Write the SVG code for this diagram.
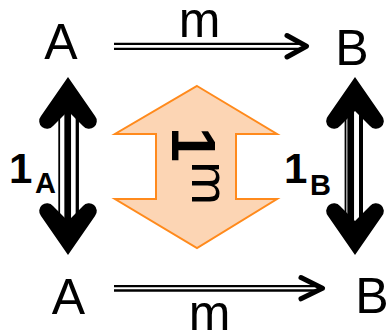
<svg xmlns="http://www.w3.org/2000/svg" width="386" height="336" viewBox="0 0 386 336">
<style>
.lbl{font-family:"Liberation Sans",Arial,sans-serif;fill:#000}
.big{font-size:50px}
.one{font-size:42px;font-weight:bold}
.sub{font-size:29px;font-weight:bold}
.dl{stroke:#000;stroke-width:2.3;fill:none}
.head{stroke:#000;stroke-width:5;fill:none;stroke-linecap:round;stroke-linejoin:round}
.vl{stroke:#000;fill:none}
.vh{fill:#000}
</style>
<rect width="386" height="336" fill="#fff"/>
<g id="A-top"><text class="lbl big" x="61" y="59" text-anchor="middle">A</text></g>
<g id="B-top"><text class="lbl big" x="352" y="65" text-anchor="middle">B</text></g>
<g id="A-bottom"><text class="lbl big" x="68.5" y="314" text-anchor="middle">A</text></g>
<g id="B-bottom"><text class="lbl big" x="372" y="313" text-anchor="middle">B</text></g>
<g id="two-cell">
<polygon points="197,86 277,134 236,134 236,199 277,199 197,248 115,199 156,199 156,134 115,134" fill="#FCD5B4" stroke="#FF8A1C" stroke-width="2" stroke-linejoin="miter"/>
<text class="lbl" font-size="63" font-weight="bold" transform="translate(172,127) rotate(90)">1</text>
<text class="lbl" font-size="52" transform="translate(192,161.5) rotate(90)">m</text>
</g>
<g id="connectors">
<g id="m-top">
<line class="dl" x1="114" y1="43.8" x2="303" y2="43.8"/>
<line class="dl" x1="114" y1="48.8" x2="303" y2="48.8"/>
<polyline class="head" points="287,35.5 306.5,46.3 287,57"/>
<text class="lbl big" x="199.5" y="37" text-anchor="middle">m</text>
</g>
<g id="m-bottom">
<line class="dl" x1="114" y1="286.2" x2="319" y2="286.2"/>
<line class="dl" x1="114" y1="290.5" x2="319" y2="290.5"/>
<polyline class="head" points="301,277.5 322.5,288.3 301,298.8"/>
<text class="lbl big" x="209.5" y="330" text-anchor="middle">m</text>
</g>
<g id="id-A">
<line class="vl" stroke-width="1.8" x1="59.2" y1="108" x2="59.2" y2="224"/>
<line class="vl" stroke-width="6.7" x1="67.7" y1="108" x2="67.7" y2="224"/>
<line class="vl" stroke-width="3.3" x1="77.3" y1="108" x2="77.3" y2="224"/>
<path class="vh" d="M68,77 L41,116 A7.8,7.8 0 0 0 53,126 L68,111 L83,126 A7.8,7.8 0 0 0 95,116 Z"/>
<path class="vh" d="M68,255 L41,216 A7.8,7.8 0 0 1 53,206 L68,221 L83,206 A7.8,7.8 0 0 1 95,216 Z"/>
<text class="lbl one" x="9" y="183">1</text>
<text class="lbl sub" x="35" y="193">A</text>
</g>
<g id="id-B">
<line class="vl" stroke-width="1.8" x1="345.5" y1="108" x2="345.5" y2="224"/>
<line class="vl" stroke-width="6.7" x1="350.7" y1="108" x2="350.7" y2="224"/>
<line class="vl" stroke-width="4" x1="361" y1="108" x2="361" y2="224"/>
<path class="vh" d="M355,77 L328,116 A7.8,7.8 0 0 0 340,126 L355,111 L370,126 A7.8,7.8 0 0 0 382,116 Z"/>
<path class="vh" d="M355,255 L328,216 A7.8,7.8 0 0 1 340,206 L355,221 L370,206 A7.8,7.8 0 0 1 382,216 Z"/>
<text class="lbl one" x="284" y="183">1</text>
<text class="lbl sub" x="310" y="195">B</text>
</g>
</g>
</svg>
